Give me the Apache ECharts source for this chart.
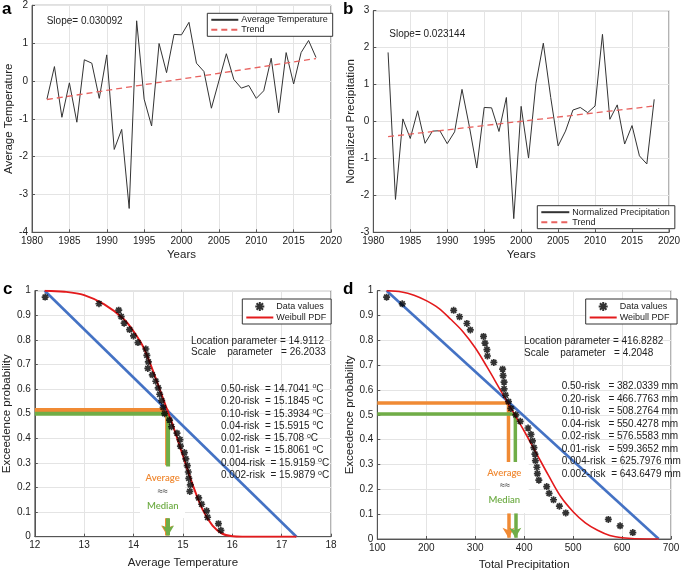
<!DOCTYPE html>
<html><head><meta charset="utf-8">
<script src="https://cdn.jsdelivr.net/npm/echarts@6/dist/echarts.min.js"></script>
<style>html,body{margin:0;padding:0;background:#fff}#chart{width:685px;height:572px}</style>
</head><body><div id="chart"></div>
<script>
// ---------- data ----------
const years = [1982,1983,1984,1985,1986,1987,1988,1989,1990,1991,1992,1993,1994,1995,1996,1997,1998,1999,2000,2001,2002,2003,2004,2005,2006,2007,2008,2009,2010,2011,2012,2013,2014,2015,2016,2017,2018];
const avgTemp = [-0.48,0.38,-0.96,-0.05,-1.09,0.56,0.47,-0.46,0.69,-1.81,-1.28,-3.37,1.59,-0.48,-1.19,0.99,0.22,1.23,1.22,1.55,0.47,0.25,-0.72,0.0,0.72,0.04,-0.19,-0.12,-0.46,-0.26,0.60,-0.84,0.75,-0.08,0.75,1.07,0.62];
const normPrecip = [1.87,-2.11,0.07,-0.46,0.29,-0.59,-0.26,-0.25,-0.60,-0.28,0.87,-0.14,-1.26,0.38,0.37,-0.27,0.65,-2.63,0.41,-0.99,1.03,2.12,0.65,-0.66,-0.26,0.31,0.38,0.24,0.42,2.36,0.06,0.45,-0.61,-0.11,-0.93,-1.15,0.60];
const trendYears = [1982, 2018];
const tempTrend = [-0.49, 0.593];
const precipTrend = [-0.41, 0.42];

const exceedProb = [0.974,0.947,0.921,0.895,0.868,0.842,0.816,0.789,0.763,0.737,0.711,0.684,0.658,0.632,0.605,0.579,0.553,0.526,0.500,0.474,0.447,0.421,0.395,0.368,0.342,0.316,0.289,0.263,0.237,0.211,0.184,0.158,0.132,0.105,0.079,0.053,0.026];
const tempSorted = [12.21,13.30,13.70,13.75,13.81,13.92,14.00,14.09,14.25,14.27,14.30,14.29,14.38,14.45,14.50,14.53,14.57,14.60,14.63,14.73,14.77,14.88,14.94,14.95,15.03,15.06,15.09,15.11,15.12,15.15,15.14,15.32,15.38,15.48,15.50,15.72,15.77];
const precipSorted = [119,151,256,268,283,290,317,320,324,325,338,356,357,359,359,362,368,373,383,392,408,414,417,420,422,423,426,427,430,446,451,460,472,485,572,596,622];

const tempWeibullX = [12.2,12.6,13.0,13.4,13.8,14.0,14.2,14.4,14.6,14.8,15.0,15.2,15.4,15.6,15.8,16.0,16.2,17.3];
const tempWeibullY = [1.0,0.996,0.982,0.945,0.885,0.835,0.77,0.67,0.56,0.45,0.33,0.21,0.11,0.045,0.012,0.002,0.0,0.0];
const precWeibullX = [119,150,175,200,225,250,275,300,325,350,375,400,425,450,475,500,525,550,575,600,650,675];
const precWeibullY = [1.0,0.995,0.982,0.96,0.93,0.885,0.835,0.77,0.69,0.605,0.52,0.435,0.345,0.255,0.17,0.11,0.065,0.035,0.014,0.005,0.0,0.0];

const tempDiagX = [12.2, 17.3], tempDiagY = [1.0, 0.0];
const precDiagX = [119, 675], precDiagY = [1.0, 0.0];

const tempAverage = 14.68, tempAvgProb = 0.515, tempMedian = 14.70, tempMedProb = 0.50;
const precAverage = 368, precAvgProb = 0.548, precMedian = 382, precMedProb = 0.503;

const tempRisks = [['0.50-risk  = ','14.7041'],['0.20-risk  = ','15.1845'],['0.10-risk  = ','15.3934'],['0.04-risk  = ','15.5915'],['0.02-risk  = ','15.708'],['0.01-risk  = ','15.8061'],['0.004-risk  = ','15.9159'],['0.002-risk  = ','15.9879']];
const precRisks = [['0.50-risk   = ','382.0339 mm'],['0.20-risk   = ','466.7763 mm'],['0.10-risk   = ','508.2764 mm'],['0.04-risk   = ','550.4278 mm'],['0.02-risk   = ','576.5583 mm'],['0.01-risk   = ','599.3652 mm'],['0.004-risk  = ','625.7976 mm'],['0.002-risk  = ','643.6479 mm']];

// ---------- helpers ----------
const zip = (a, b) => a.map((v, i) => [v, b[i]]);
const FONT = 'Liberation Sans, Arial, sans-serif';
const ORANGE = '#F08A34', GREEN = '#70AD47', BLUE = '#4472C4', RED = '#E31A1C';
const star = 'path://M0,-5L0,5M-5,0L5,0M-3.6,-3.6L3.6,3.6M-3.6,3.6L3.6,-3.6';

function ax(g, min, max, interval, name, nameGap) {
  return {type:'value', gridIndex:g, min, max, interval, name, nameLocation:'middle', nameGap,
    nameTextStyle:{fontSize:11.5, color:'#222', fontFamily:FONT},
    axisLine:{show:true, onZero:false, lineStyle:{color:'#555'}},
    axisTick:{show:true, inside:true, length:3, lineStyle:{color:'#555'}},
    axisLabel:{fontSize:10, color:'#222', margin:4, fontFamily:FONT, formatter:(v) => String(+v.toFixed(2))},
    splitLine:{show:true, lineStyle:{color:'#e4e4e4'}}};
}
const hideSym = {opacity:0};
function legend(items, left, top, itemW) {
  return {data:items, orient:'vertical', left, top, itemGap:1, itemWidth:itemW, itemHeight:9,
    padding:[2,5,2,3], borderColor:'#333', borderWidth:1, backgroundColor:'#fff', borderRadius:0,
    textStyle:{fontSize:9, color:'#222', fontFamily:FONT, padding:[0,0,0,-2]}, selectedMode:false};
}
function riskText(rows) {
  return rows.map(r => r[0] + r[1] + ' {s|o}C').join('\n');
}
function ctext(x, y, text, font, fill) {
  return {type:'text', x, y, z:100, style:{text, font, fill, textAlign:'center', textVerticalAlign:'middle'}};
}

const option = {
  animation:false,
  backgroundColor:'#fff',
  textStyle:{fontFamily:FONT},
  grid:[
    {left:32, top:5.3, width:299, height:227, show:true, borderColor:'#666', borderWidth:1},
    {left:373.3, top:10.7, width:295.7, height:221.6, show:true, borderColor:'#666', borderWidth:1},
    {left:32, top:290.7, width:299, height:246, show:true, borderColor:'#666', borderWidth:1},
    {left:377.3, top:290.7, width:293.7, height:248.3, show:true, borderColor:'#666', borderWidth:1}
  ],
  xAxis:[
    ax(0, 1980, 2020, 5, 'Years', 17),
    ax(1, 1980, 2020, 5, 'Years', 17),
    ax(2, 12, 18, 1, 'Average Temperature', 20),
    ax(3, 100, 700, 100, 'Total Precipitation', 20)
  ],
  yAxis:[
    ax(0, -4, 2, 1, 'Average Temperature', 14),
    ax(1, -3, 3, 1, 'Normalized Precipitation', 14),
    ax(2, 0, 1, 0.1, 'Exceedence probability', 20),
    ax(3, 0, 1, 0.1, 'Exceedence probability', 20)
  ],
  legend:[
    legend([{name:'Average Temperature', itemStyle:hideSym},{name:'Trend', itemStyle:hideSym}], 207.3, 13.3, 27),
    legend([{name:'Normalized Precipitation', itemStyle:hideSym},{name:'Trend ', itemStyle:hideSym}], 537.3, 205.7, 28),
    legend([{name:'Data values'},{name:'Weibull PDF', itemStyle:hideSym}], 242.3, 299, 27),
    legend([{name:'Data values '},{name:'Weibull PDF ', itemStyle:hideSym}], 585.7, 299, 27)
  ],
  series:[
    {name:'Average Temperature', type:'line', xAxisIndex:0, yAxisIndex:0, data:zip(years, avgTemp), symbol:'none', lineStyle:{color:'#333', width:1}, itemStyle:{color:'#333'}},
    {name:'Trend', type:'line', xAxisIndex:0, yAxisIndex:0, data:zip(trendYears, tempTrend), symbol:'none', lineStyle:{color:'#E8625F', width:1.3, type:[6,4]}, itemStyle:{color:'#E8625F'}},
    {name:'Normalized Precipitation', type:'line', xAxisIndex:1, yAxisIndex:1, data:zip(years, normPrecip), symbol:'none', lineStyle:{color:'#333', width:1}, itemStyle:{color:'#333'}},
    {name:'Trend ', type:'line', xAxisIndex:1, yAxisIndex:1, data:zip(trendYears, precipTrend), symbol:'none', lineStyle:{color:'#E8625F', width:1.3, type:[6,4]}, itemStyle:{color:'#E8625F'}},

    // panel c
    {name:'avgC', type:'line', xAxisIndex:2, yAxisIndex:2, data:[[12,tempAvgProb],[tempAverage,tempAvgProb],[tempAverage,0.29]], symbol:'none', lineStyle:{color:ORANGE, width:4}, z:3},
    {name:'medC', type:'line', xAxisIndex:2, yAxisIndex:2, data:[[12,tempMedProb],[tempMedian,tempMedProb],[tempMedian,0.285]], symbol:'none', lineStyle:{color:GREEN, width:4}, z:3,
      markLine:{silent:true, symbol:['none','arrow'], symbolSize:[9,10], label:{show:false},
        data:[
          [{coord:[tempAverage,0.075], lineStyle:{color:ORANGE, width:4, type:'solid'}},{coord:[tempAverage,0.005]}],
          [{coord:[tempMedian,0.075], lineStyle:{color:GREEN, width:4, type:'solid'}},{coord:[tempMedian,0.005]}]
        ]}},
    {name:'diagC', type:'line', xAxisIndex:2, yAxisIndex:2, data:zip(tempDiagX, tempDiagY), symbol:'none', lineStyle:{color:BLUE, width:2.6}, z:4},
    {name:'Weibull PDF', type:'line', xAxisIndex:2, yAxisIndex:2, data:zip(tempWeibullX, tempWeibullY), symbol:'none', smooth:0.35, lineStyle:{color:RED, width:2}, itemStyle:{color:RED}, z:5},
    {name:'Data values', type:'scatter', xAxisIndex:2, yAxisIndex:2, data:zip(tempSorted, exceedProb), symbol:star, symbolSize:7, itemStyle:{color:'transparent', borderColor:'#000', borderWidth:1.7}, z:6},

    // panel d
    {name:'avgD', type:'line', xAxisIndex:3, yAxisIndex:3, data:[[100,precAvgProb],[precAverage,precAvgProb],[precAverage,0.31]], symbol:'none', lineStyle:{color:ORANGE, width:3.5}, z:3},
    {name:'medD', type:'line', xAxisIndex:3, yAxisIndex:3, data:[[100,precMedProb],[precMedian,precMedProb],[precMedian,0.31]], symbol:'none', lineStyle:{color:GREEN, width:3.5}, z:3,
      markLine:{silent:true, symbol:['none','arrow'], symbolSize:[9,10], label:{show:false},
        data:[
          [{coord:[precAverage,0.103], lineStyle:{color:ORANGE, width:3.5, type:'solid'}},{coord:[precAverage,0.005]}],
          [{coord:[precMedian,0.103], lineStyle:{color:GREEN, width:3.5, type:'solid'}},{coord:[precMedian,0.005]}]
        ]}},
    {name:'diagD', type:'line', xAxisIndex:3, yAxisIndex:3, data:zip(precDiagX, precDiagY), symbol:'none', lineStyle:{color:BLUE, width:2.6}, z:4},
    {name:'Weibull PDF ', type:'line', xAxisIndex:3, yAxisIndex:3, data:zip(precWeibullX, precWeibullY), symbol:'none', smooth:0.35, lineStyle:{color:RED, width:1.6}, itemStyle:{color:RED}, z:5},
    {name:'Data values ', type:'scatter', xAxisIndex:3, yAxisIndex:3, data:zip(precipSorted, exceedProb), symbol:star, symbolSize:7, itemStyle:{color:'transparent', borderColor:'#000', borderWidth:1.7}, z:6}
  ],
  graphic:[
    {type:'text', left:2, top:1, style:{text:'a', font:'bold 17px '+FONT, fill:'#000'}},
    {type:'text', left:343, top:1, style:{text:'b', font:'bold 17px '+FONT, fill:'#000'}},
    {type:'text', left:3, top:281, style:{text:'c', font:'bold 17px '+FONT, fill:'#000'}},
    {type:'text', left:343, top:281, style:{text:'d', font:'bold 17px '+FONT, fill:'#000'}},
    {type:'text', left:46.7, top:16, z:100, style:{text:'Slope= 0.030092', font:'10px '+FONT, fill:'#222'}},
    {type:'text', left:389.3, top:29, z:100, style:{text:'Slope= 0.023144', font:'10px '+FONT, fill:'#222'}},

    {type:'text', left:191, top:335, z:100, style:{text:'Location parameter = 14.9112\nScale    parameter   = 26.2033', font:'10px '+FONT, fill:'#222', lineHeight:11.8}},
    {type:'text', left:221, top:383, z:100, style:{text:riskText(tempRisks), font:'10px '+FONT, fill:'#222', lineHeight:12.3, rich:{s:{fontSize:7, verticalAlign:'top', lineHeight:8, fill:'#222'}}}},
    {type:'text', left:524, top:335, z:100, style:{text:'Location parameter = 416.8282\nScale    parameter   = 4.2048', font:'10px '+FONT, fill:'#222', lineHeight:12}},
    {type:'text', left:561.7, top:380, z:100, style:{text:precRisks.map(r => r[0]+r[1]).join('\n'), font:'10px '+FONT, fill:'#222', lineHeight:12.5}},

    {type:'rect', left:140, top:467, z:1, shape:{width:45, height:51}, style:{fill:'#fff'}},
    ctext(162.7, 478, 'Average', '600 9.5px Lato, sans-serif', ORANGE),
    ctext(162.7, 491.7, '≈≈', '9px '+FONT, '#222'),
    ctext(162.7, 506, 'Median', '600 9.5px Lato, sans-serif', GREEN),

    {type:'rect', left:480, top:460, z:1, shape:{width:48.7, height:53}, style:{fill:'#fff'}},
    ctext(504.3, 472.7, 'Average', '600 9.5px Lato, sans-serif', ORANGE),
    ctext(505, 486, '≈≈', '9px '+FONT, '#222'),
    ctext(504.3, 500, 'Median', '600 9.5px Lato, sans-serif', GREEN)
  ]
};
const chart = echarts.init(document.getElementById('chart'), null, {renderer:'canvas'});
chart.setOption(option);
</script>
</body></html>
